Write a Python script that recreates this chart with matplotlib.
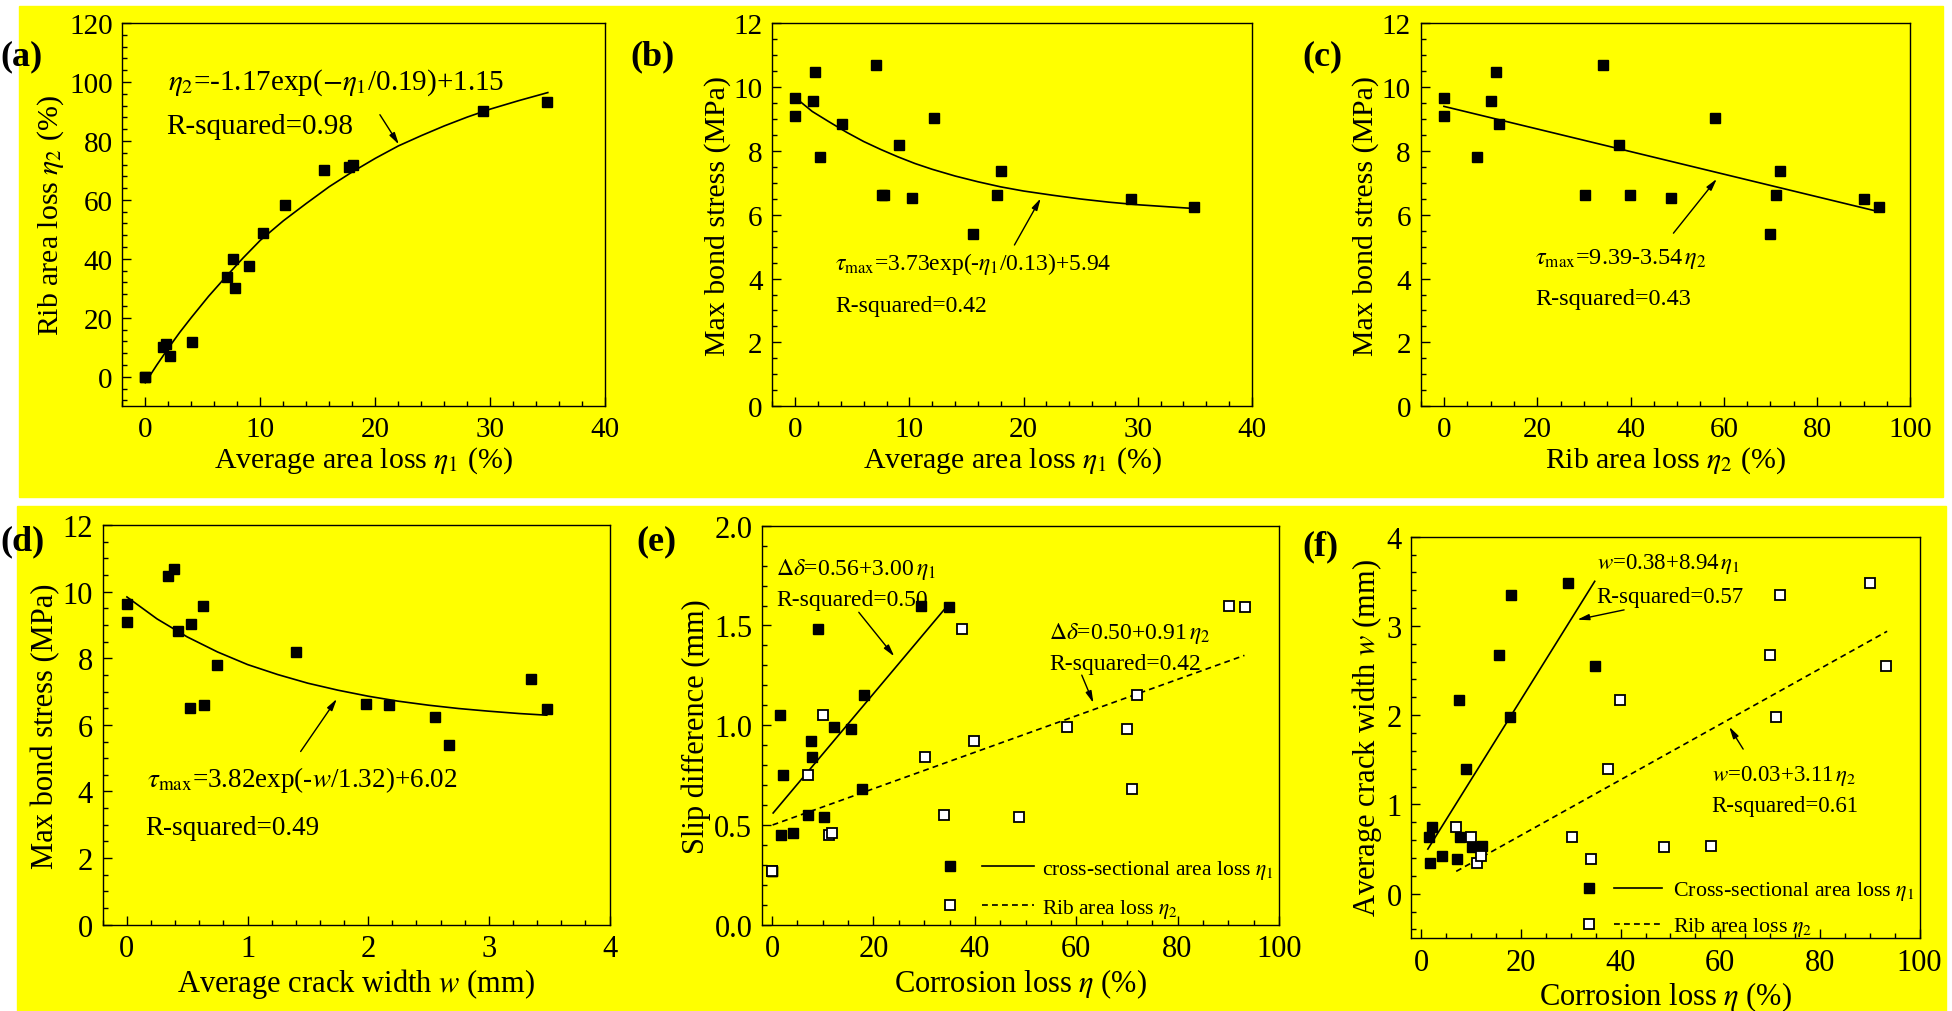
import matplotlib
matplotlib.use('Agg')
import matplotlib.pyplot as plt
import numpy as np
from matplotlib.patches import Rectangle
from matplotlib.ticker import MultipleLocator
from matplotlib.legend_handler import HandlerTuple
from matplotlib.lines import Line2D

plt.rcParams['font.family'] = ['Liberation Serif', 'DejaVu Serif']
plt.rcParams['mathtext.fontset'] = 'stix'
plt.rcParams['axes.linewidth'] = 1.0

# one entry per specimen
eta1 = np.array([0, 0, 1.52, 1.78, 2.17, 4.06, 7.07, 7.6, 7.8, 9.06, 10.25, 12.14, 15.54, 17.7, 18.04, 29.4, 34.9])
eta2 = np.array([0, 0, 10.0, 11.2, 7.0, 11.9, 34.0, 39.8, 30.2, 37.5, 48.7, 58.2, 70.0, 71.1, 72.0, 90.1, 93.3])
tau_max = np.array([9.64, 9.10, 9.56, 10.47, 7.79, 8.83, 10.69, 6.60, 6.60, 8.19, 6.51, 9.03, 5.40, 6.63, 7.38, 6.48, 6.23])
crack_w = np.array([0, 0, 0.63, 0.34, 0.75, 0.42, 0.39, 2.17, 0.64, 1.40, 0.52, 0.53, 2.67, 1.98, 3.35, 3.48, 2.55])
slip_diff = np.array([0.27, 0.27, 1.05, 0.45, 0.75, 0.46, 0.55, 0.92, 0.84, 1.48, 0.54, 0.99, 0.98, 0.68, 1.15, 1.60, 1.59])

# fitted curves, points
fit_a_x = [0, 1, 2, 3, 4, 5.5, 7, 8.5, 10, 12, 14, 16, 18, 20, 22, 24, 26, 28, 30, 32.5, 35]
fit_a_y = [-2.0, 4.0, 9.7, 15.1, 20.1, 27.3, 33.9, 40.3, 46.3, 52.9, 58.8, 64.5, 69.5, 74.1, 78.3, 81.8, 85.1, 88.1, 90.8, 93.7, 96.4]
fit_b_x = [0.3, 1.5, 3, 4.5, 6, 7.5, 9, 10.5, 12, 14, 16, 18, 20, 22.5, 25, 27.5, 30, 32.5, 35]
fit_b_y = [9.58, 9.23, 8.90, 8.58, 8.29, 8.04, 7.81, 7.60, 7.42, 7.21, 7.03, 6.87, 6.74, 6.61, 6.49, 6.39, 6.31, 6.25, 6.19]
fit_c_x = [0, 93.3]
fit_c_y = [9.39, 6.09]
fit_d_x = [0, 0.25, 0.5, 0.75, 1.0, 1.25, 1.5, 1.75, 2.0, 2.25, 2.5, 2.75, 3.0, 3.25, 3.48]
fit_d_y = [9.84, 9.18, 8.64, 8.19, 7.81, 7.51, 7.25, 7.04, 6.86, 6.71, 6.59, 6.49, 6.41, 6.34, 6.29]
fit_e1_x = [0.2, 34.3]
fit_e1_y = [0.56, 1.59]
fit_e2_x = [0.1, 93.2]
fit_e2_y = [0.50, 1.35]
fit_f1_x = [1.3, 34.8]
fit_f1_y = [0.50, 3.50]
fit_f2_x = [7.0, 93.5]
fit_f2_y = [0.25, 2.94]

W, H = 1952, 1012
YELLOW = '#ffff00'


def box(l, t, r, b):
    return [l / W, 1 - b / H, (r - l) / W, (b - t) / H]


def setup(ax, xlim, ylim, xmaj, xmin, ymaj, ymin, size):
    ax.set_facecolor(YELLOW)
    ax.set_xlim(*xlim)
    ax.set_ylim(*ylim)
    ax.xaxis.set_major_locator(MultipleLocator(xmaj))
    ax.xaxis.set_minor_locator(MultipleLocator(xmin))
    ax.yaxis.set_major_locator(MultipleLocator(ymaj))
    ax.yaxis.set_minor_locator(MultipleLocator(ymin))
    ax.tick_params(which='both', direction='in', top=False, right=False,
                   labelsize=size, width=1.0, pad=7)
    ax.tick_params(which='major', length=6.5)
    ax.tick_params(which='minor', length=3.5)


def filled(ax, x, y):
    ax.plot(x, y, 's', color='black', ms=6.5, zorder=3)


def hollow(ax, x, y):
    ax.plot(x, y, 's', mfc='white', mec='black', mew=1.3, ms=6.5, zorder=4)


def arrow(ax, tail, head):
    ax.annotate('', xy=head, xytext=tail,
                arrowprops=dict(arrowstyle='-|>,head_length=0.7,head_width=0.18',
                                color='black', lw=1.0, shrinkA=0, shrinkB=0))


fig = plt.figure(figsize=(W / 100, H / 100), dpi=100)
fig.patches.append(Rectangle((19 / W, 1 - 498 / H), (1943 - 19) / W, (498 - 7) / H,
                             transform=fig.transFigure, color=YELLOW, zorder=-10))
fig.patches.append(Rectangle((17 / W, 0), (1946 - 17) / W, (1012 - 507) / H,
                             transform=fig.transFigure, color=YELLOW, zorder=-10))

# (a)
ax = fig.add_axes(box(122.3, 24, 605.3, 407.3))
setup(ax, (-2, 40), (-10, 120), 10, 2, 20, 4, 21)
ax.plot(fit_a_x, fit_a_y, color='black', lw=1.2)
filled(ax, eta1, eta2)
ax.set_xlabel(r'Average area loss $\eta_1$ (%)', fontsize=21.5, labelpad=2)
ax.set_ylabel(r'Rib area loss $\eta_2$ (%)', fontsize=21.5, labelpad=2)
ax.text(2.0, 100, r'$\eta_2$=-1.17exp($-\eta_1$/0.19)+1.15', fontsize=21, va='center')
ax.text(1.8, 85.2, 'R-squared=0.98', fontsize=21, va='center')
arrow(ax, (20.4, 88.9), (22.05, 78.8))

# (b)
ax = fig.add_axes(box(772.3, 24, 1252, 407.3))
setup(ax, (-2, 40), (0, 12), 10, 2, 2, 0.5, 21)
ax.plot(fit_b_x, fit_b_y, color='black', lw=1.2)
filled(ax, eta1, tau_max)
ax.set_xlabel(r'Average area loss $\eta_1$ (%)', fontsize=21.5, labelpad=2)
ax.set_ylabel('Max bond stress (MPa)', fontsize=21.5, labelpad=2)
ax.text(3.5, 4.5, r'$\tau_{\mathrm{max}}$=3.73exp(-$\eta_1$/0.13)+5.94', fontsize=17, va='center')
ax.text(3.5, 3.15, 'R-squared=0.42', fontsize=17, va='center')
arrow(ax, (19.2, 5.05), (21.5, 6.51))

# (c)
ax = fig.add_axes(box(1420.6, 24, 1910.4, 407.3))
setup(ax, (-5, 100), (0, 12), 20, 5, 2, 0.5, 21)
ax.plot(fit_c_x, fit_c_y, color='black', lw=1.2)
filled(ax, eta2, tau_max)
ax.set_xlabel(r'Rib area loss $\eta_2$ (%)', fontsize=21.5, labelpad=2)
ax.set_ylabel('Max bond stress (MPa)', fontsize=21.5, labelpad=2)
ax.text(19.6, 4.65, r'$\tau_{\mathrm{max}}$=9.39-3.54$\,\eta_2$', fontsize=17.5, va='center')
ax.text(19.6, 3.38, 'R-squared=0.43', fontsize=17.5, va='center')
arrow(ax, (49.2, 5.42), (58.5, 7.12))

# (d)
ax = fig.add_axes(box(102.8, 526, 609.5, 925.7))
setup(ax, (-0.2, 4), (0, 12), 1, 0.2, 2, 0.5, 22)
ax.plot(fit_d_x, fit_d_y, color='black', lw=1.2)
filled(ax, crack_w, tau_max)
ax.set_xlabel(r'Average crack width $w$ (mm)', fontsize=22, labelpad=2)
ax.set_ylabel('Max bond stress (MPa)', fontsize=22, labelpad=2)
ax.text(0.17, 4.37, r'$\tau_{\mathrm{max}}$=3.82exp(-$w$/1.32)+6.02', fontsize=19.5, va='center')
ax.text(0.15, 2.92, 'R-squared=0.49', fontsize=19.5, va='center')
arrow(ax, (1.44, 5.2), (1.74, 6.78))

# (e)
ax = fig.add_axes(box(762, 526.7, 1278.9, 925.7))
setup(ax, (-2, 100), (0, 2), 20, 5, 0.5, 0.1, 22)
l1, = ax.plot(fit_e1_x, fit_e1_y, color='black', lw=1.2)
l2, = ax.plot(fit_e2_x, fit_e2_y, color='black', lw=1.2, ls=(0, (3.5, 2.5)))
filled(ax, eta1, slip_diff)
hollow(ax, eta2, slip_diff)
ax.yaxis.set_major_formatter(matplotlib.ticker.FormatStrFormatter('%.1f'))
ax.set_xlabel(r'Corrosion loss $\eta$ (%)', fontsize=22, labelpad=2)
ax.set_ylabel('Slip difference (mm)', fontsize=22, labelpad=2)
ax.text(0.8, 1.783, r'$\Delta\delta$=0.56+3.00$\,\eta_1$', fontsize=17, va='center')
ax.text(0.8, 1.632, 'R-squared=0.50', fontsize=17, va='center')
arrow(ax, (17.1, 1.566), (24.1, 1.345))
ax.text(54.7, 1.465, r'$\Delta\delta$=0.50+0.91$\,\eta_2$', fontsize=17, va='center')
ax.text(54.7, 1.31, 'R-squared=0.42', fontsize=17, va='center')
arrow(ax, (61.1, 1.251), (63.4, 1.111))
m1 = Line2D([], [], marker='s', color='black', ls='none', ms=6.5)
m2 = Line2D([], [], marker='s', mfc='white', mec='black', mew=1.3, ls='none', ms=6.5)
ax.legend([(m1, l1), (m2, l2)],
          [r'cross-sectional area loss $\eta_1$', r'Rib area loss $\eta_2$'],
          handler_map={tuple: HandlerTuple(ndivide=None, pad=0.28)},
          loc='upper left', bbox_to_anchor=(0.313, 0.168), frameon=False,
          fontsize=15.5, handlelength=5.1, handletextpad=0.37, labelspacing=0.75,
          borderpad=0, borderaxespad=0)

# (f)
cracked = eta1 > 0
ax = fig.add_axes(box(1411.4, 537.7, 1919.5, 939.3))
setup(ax, (-2, 100), (-0.5, 4), 20, 5, 1, 0.2, 22)
l1, = ax.plot(fit_f1_x, fit_f1_y, color='black', lw=1.2)
l2, = ax.plot(fit_f2_x, fit_f2_y, color='black', lw=1.2, ls=(0, (3.5, 2.5)))
filled(ax, eta1[cracked], crack_w[cracked])
hollow(ax, eta2[cracked], crack_w[cracked])
ax.set_xlabel(r'Corrosion loss $\eta$ (%)', fontsize=22, labelpad=2)
ax.set_ylabel(r'Average crack width $w$ (mm)', fontsize=22, labelpad=2)
ax.text(35.2, 3.71, r'$w$=0.38+8.94$\,\eta_1$', fontsize=16.5, va='center')
ax.text(35.1, 3.33, 'R-squared=0.57', fontsize=16.5, va='center')
arrow(ax, (40.7, 3.18), (31.3, 3.07))
ax.text(58.3, 1.325, r'$w$=0.03+3.11$\,\eta_2$', fontsize=16.5, va='center')
ax.text(58.3, 0.99, 'R-squared=0.61', fontsize=16.5, va='center')
arrow(ax, (64.6, 1.62), (61.8, 1.87))
ax.legend([(m1, l1), (m2, l2)],
          [r'Cross-sectional area loss $\eta_1$', r'Rib area loss $\eta_2$'],
          handler_map={tuple: HandlerTuple(ndivide=None, pad=0.0)},
          loc='upper left', bbox_to_anchor=(0.302, 0.147), frameon=False,
          fontsize=15.8, handlelength=4.45, handletextpad=0.5, labelspacing=0.6,
          borderpad=0, borderaxespad=0)

# panel letters
for lab, x, y in [('(a)', 0, 57), ('(b)', 630, 57), ('(c)', 1302, 57),
                  ('(d)', 0, 542), ('(e)', 636, 542), ('(f)', 1302, 547)]:
    fig.text(x / W, 1 - y / H, lab, fontsize=26, fontweight='bold', va='center', ha='left')

fig.savefig('out.png', dpi=100)
